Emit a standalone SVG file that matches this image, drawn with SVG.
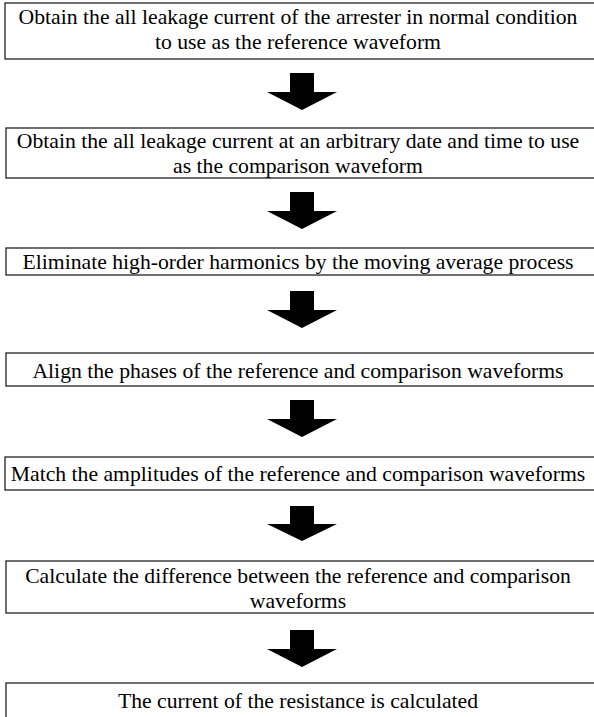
<svg xmlns="http://www.w3.org/2000/svg" width="594" height="717" viewBox="0 0 594 717">
<style>
.box{fill:#fff;stroke:#222;stroke-width:1.3}
.t{font-family:"Liberation Serif","Times New Roman",serif;font-size:21.7px;fill:#000;text-anchor:middle}
.arr{fill:#000}
</style>
<rect width="594" height="717" fill="#fff"/>
<g id="connectors">
<polygon class="arr" points="290,73 314,73 314,92 337,92 302,110 267,92 290,92"/>
<polygon class="arr" points="290,192 314,192 314,211 337,211 302,229 267,211 290,211"/>
<polygon class="arr" points="290,291 314,291 314,310 337,310 302,328 267,310 290,310"/>
<polygon class="arr" points="290,400 314,400 314,419 337,419 302,437 267,419 290,419"/>
<polygon class="arr" points="290,506 314,506 314,524 337,524 302,541 267,524 290,524"/>
<polygon class="arr" points="290,630 314,630 314,649 337,649 302,667 267,649 290,649"/>
</g>
<g id="n1"><rect class="box" x="5" y="3" width="590" height="56"/>
<text class="t" x="298" y="24">Obtain the all leakage current of the arrester in normal condition</text>
<text class="t" x="298" y="49">to use as the reference waveform</text></g>
<g id="n2"><rect class="box" x="6" y="128" width="590" height="50"/>
<text class="t" x="298" y="148">Obtain the all leakage current at an arbitrary date and time to use</text>
<text class="t" x="298" y="173">as the comparison waveform</text></g>
<g id="n3"><rect class="box" x="6" y="248" width="590" height="27"/>
<text class="t" x="298" y="269">Eliminate high-order harmonics by the moving average process</text></g>
<g id="n4"><rect class="box" x="6" y="353" width="590" height="33"/>
<text class="t" x="298" y="378">Align the phases of the reference and comparison waveforms</text></g>
<g id="n5"><rect class="box" x="5" y="457" width="590" height="33"/>
<text class="t" x="298" y="481">Match the amplitudes of the reference and comparison waveforms</text></g>
<g id="n6"><rect class="box" x="6" y="561" width="590" height="52"/>
<text class="t" x="298" y="583">Calculate the difference between the reference and comparison</text>
<text class="t" x="298" y="608">waveforms</text></g>
<g id="n7"><rect class="box" x="6" y="683" width="590" height="40"/>
<text class="t" x="298" y="708">The current of the resistance is calculated</text></g>
</svg>
